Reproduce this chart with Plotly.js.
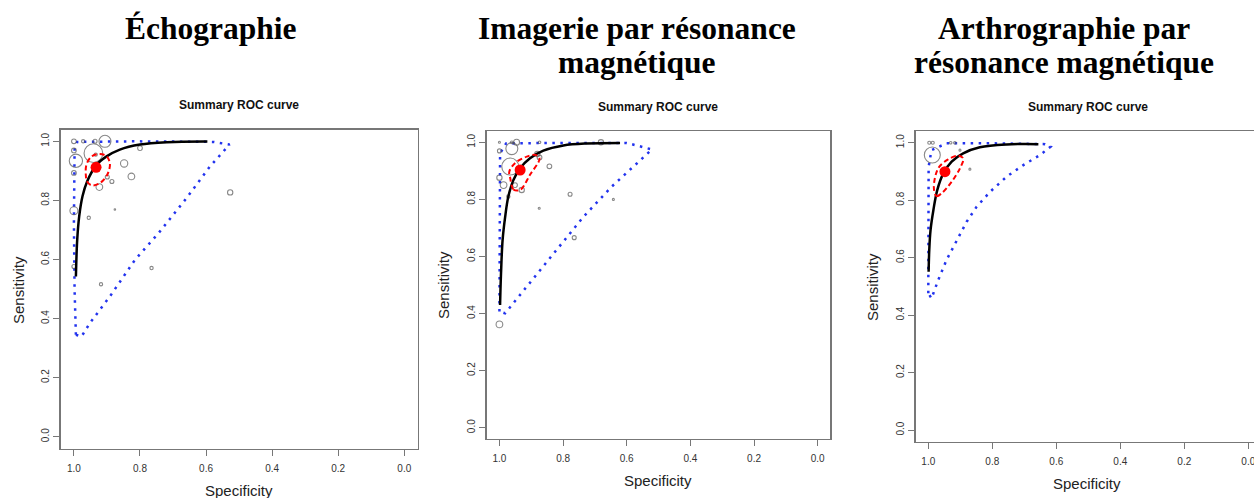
<!DOCTYPE html>
<html>
<head>
<meta charset="utf-8">
<script src="https://cdn.plot.ly/plotly-3.0.1.min.js"></script>
<style>
html,body{margin:0;padding:0;overflow:hidden;background:#fff;width:1254px;height:498px;}
#chart{width:1270px;height:498px;}
</style>
</head>
<body>
<div id="chart"></div>
<script>
// ---------- Panel titles ----------
const panelTitles = [["Échographie"], ["Imagerie par résonance", "magnétique"], ["Arthrographie par", "résonance magnétique"]];
const subTitle = "Summary ROC curve";
const xTitle = "Specificity";
const yTitle = "Sensitivity";
const tickVals = [0, 0.2, 0.4, 0.6, 0.8, 1.0];
const tickText = ["0.0", "0.2", "0.4", "0.6", "0.8", "1.0"];

// ---------- Panel 1 : Échographie ----------
const ech_spec = [1.0, 0.972, 0.936, 0.906, 0.80, 1.0, 0.941, 0.994, 0.934, 0.848, 1.0, 0.899, 0.885, 0.826, 0.923, 1.0, 0.955, 0.876, 0.527, 1.0, 0.765, 0.918];
const ech_sens = [1.0, 1.0, 1.0, 1.0, 0.977, 0.969, 0.960, 0.934, 0.955, 0.925, 0.893, 0.879, 0.864, 0.881, 0.845, 0.765, 0.741, 0.769, 0.827, 0.576, 0.571, 0.516];
const ech_size = [4.7, 3.3, 4, 12, 4.7, 4.7, 18.7, 13.3, 3.3, 7.3, 4.7, 4, 4, 6.7, 6.7, 8, 3.3, 1.5, 5.3, 4, 3.3, 3.3];
const ech_sum_spec = [0.933];
const ech_sum_sens = [0.912];
const ech_sroc_spec = [0.994, 0.990, 0.984, 0.974, 0.960, 0.931, 0.901, 0.861, 0.800, 0.719, 0.596];
const ech_sroc_sens = [0.542, 0.667, 0.746, 0.814, 0.864, 0.921, 0.949, 0.972, 0.989, 0.997, 0.999];
const ech_conf_spec = [0.964, 0.960, 0.946, 0.921, 0.899, 0.891, 0.901, 0.921, 0.946, 0.962, 0.964];
const ech_conf_sens = [0.887, 0.864, 0.851, 0.859, 0.887, 0.924, 0.949, 0.957, 0.949, 0.921, 0.887];
const ech_pred_spec = [0.994, 0.998, 1.0, 1.0, 0.998, 0.990, 0.820, 0.578, 0.529, 0.588, 0.659, 0.744, 0.815, 0.891, 0.952, 0.977, 0.994];
const ech_pred_sens = [0.345, 0.497, 0.723, 0.893, 0.972, 0.998, 1.0, 0.998, 0.989, 0.915, 0.808, 0.689, 0.599, 0.475, 0.384, 0.339, 0.345];

// ---------- Panel 2 : IRM ----------
const irm_spec = [1.0, 0.946, 0.961, 0.874, 0.681, 1.0, 0.966, 1.0, 0.987, 0.951, 0.930, 0.881, 0.874, 0.843, 0.972, 0.778, 0.875, 0.642, 0.765, 1.0, 0.961];
const irm_sens = [1.0, 1.0, 0.978, 1.0, 1.0, 0.970, 0.915, 0.876, 0.850, 0.850, 0.833, 0.959, 0.947, 0.916, 0.810, 0.818, 0.769, 0.800, 0.666, 0.362, 1.0];
const irm_size = [2, 6, 12, 2.5, 5.3, 4, 17, 5.3, 6.7, 4.7, 5.3, 5.3, 4.7, 4.7, 3.3, 4, 2, 2, 4, 6.7, 2.7];
const irm_sum_spec = [0.935];
const irm_sum_sens = [0.903];
const irm_sroc_spec = [0.998, 0.995, 0.990, 0.982, 0.972, 0.956, 0.935, 0.904, 0.862, 0.799, 0.726, 0.621];
const irm_sroc_sens = [0.430, 0.541, 0.658, 0.739, 0.810, 0.868, 0.909, 0.944, 0.971, 0.989, 0.996, 0.998];
const irm_conf_spec = [0.966, 0.956, 0.935, 0.904, 0.874, 0.888, 0.914, 0.951, 0.969, 0.966];
const irm_conf_sens = [0.874, 0.835, 0.833, 0.886, 0.944, 0.956, 0.950, 0.927, 0.897, 0.874];
const irm_pred_spec = [1.0, 1.0, 0.998, 0.979, 0.830, 0.600, 0.521, 0.579, 0.647, 0.736, 0.830, 0.925, 0.982, 1.0];
const irm_pred_sens = [0.407, 0.716, 0.961, 0.996, 0.998, 0.998, 0.975, 0.915, 0.845, 0.739, 0.611, 0.482, 0.401, 0.407];

// ---------- Panel 3 : Arthro-IRM ----------
const arthro_spec = [0.9875, 0.997, 0.986, 0.930, 0.917, 0.901, 0.870];
const arthro_sens = [0.957, 1.0, 1.0, 1.0, 1.0, 0.974, 0.908];
const arthro_size = [16, 3, 3, 2.5, 2.5, 2, 2];
const arthro_sum_spec = [0.948];
const arthro_sum_sens = [0.899];
const arthro_sroc_spec = [0.999, 0.997, 0.993, 0.984, 0.972, 0.953, 0.927, 0.891, 0.839, 0.755, 0.656];
const arthro_sroc_sens = [0.551, 0.626, 0.696, 0.766, 0.835, 0.893, 0.934, 0.963, 0.984, 0.994, 0.995];
const arthro_conf_spec = [0.982, 0.974, 0.958, 0.927, 0.901, 0.891, 0.906, 0.938, 0.966, 0.979, 0.982];
const arthro_conf_sens = [0.835, 0.814, 0.824, 0.864, 0.911, 0.945, 0.955, 0.942, 0.916, 0.879, 0.835];
const arthro_pred_spec = [1.0, 1.0, 0.999, 0.990, 0.943, 0.807, 0.635, 0.618, 0.651, 0.703, 0.755, 0.807, 0.849, 0.880, 0.911, 0.943, 0.969, 0.990, 1.0];
const arthro_pred_sens = [0.476, 0.719, 0.916, 0.974, 0.998, 0.998, 0.995, 0.986, 0.957, 0.922, 0.882, 0.829, 0.777, 0.725, 0.661, 0.592, 0.522, 0.458, 0.476];

// ---------- Layout geometry (pixels) ----------
const W = 1270, H = 498;
const boxes = [
  {l: 60.7, r: 417.5, t: 129.5, b: 448.5},
  {l: 486.7, r: 830.4, t: 130.9, b: 439.1},
  {l: 915.5, r: 1261.1, t: 131.2, b: 441.5}
];
const panels = [
  {spec: ech_spec, sens: ech_sens, size: ech_size, sx: ech_sum_spec, sy: ech_sum_sens, rx: ech_sroc_spec, ry: ech_sroc_sens, cx: ech_conf_spec, cy: ech_conf_sens, px: ech_pred_spec, py: ech_pred_sens},
  {spec: irm_spec, sens: irm_sens, size: irm_size, sx: irm_sum_spec, sy: irm_sum_sens, rx: irm_sroc_spec, ry: irm_sroc_sens, cx: irm_conf_spec, cy: irm_conf_sens, px: irm_pred_spec, py: irm_pred_sens},
  {spec: arthro_spec, sens: arthro_sens, size: arthro_size, sx: arthro_sum_spec, sy: arthro_sum_sens, rx: arthro_sroc_spec, ry: arthro_sroc_sens, cx: arthro_conf_spec, cy: arthro_conf_sens, px: arthro_pred_spec, py: arthro_pred_sens}
];
const titleCenters = [211, 637, 1064];
const subCenters = [[239, 105], [658, 107], [1088, 107]];
const yTitlePos = [[18, 290], [443, 285], [872, 287]];
const xTitlePos = [[239, 490], [658, 480], [1087, 483]];

const traces = [];
const layout = {
  width: W, height: H,
  margin: {l: 0, r: 0, t: 0, b: 0},
  paper_bgcolor: '#fff', plot_bgcolor: '#fff',
  showlegend: false,
  font: {family: 'Liberation Sans, Arial, sans-serif', color: '#222'},
  annotations: []
};

panels.forEach((p, i) => {
  const sfx = i === 0 ? '' : String(i + 1);
  const xa = 'x' + sfx, ya = 'y' + sfx;
  const bx = boxes[i];
  const axCommon = {
    showgrid: false, zeroline: false,
    showline: true, mirror: true, linecolor: '#777', linewidth: 1.3,
    ticks: 'outside', ticklen: 6, tickwidth: 1, tickcolor: '#777',
    tickvals: tickVals, ticktext: tickText,
    tickfont: {family: 'Liberation Sans, Arial, sans-serif', size: 10, color: '#333'}
  };
  layout['xaxis' + sfx] = Object.assign({}, axCommon, {
    domain: [bx.l / W, bx.r / W], range: [1.04, -0.04], anchor: ya, fixedrange: true, ticklabelstandoff: 4
  });
  layout['yaxis' + sfx] = Object.assign({}, axCommon, {
    domain: [(H - bx.b) / H, (H - bx.t) / H], range: [-0.04, 1.04], anchor: xa, tickangle: -90, fixedrange: true
  });

  // prediction region (blue dotted)
  traces.push({x: p.px, y: p.py, xaxis: xa, yaxis: ya, mode: 'lines', type: 'scatter',
    line: {color: '#2233ee', width: 2.5, dash: '2.5px,5.5px'}, hoverinfo: 'skip'});
  // studies
  traces.push({x: p.spec, y: p.sens, xaxis: xa, yaxis: ya, mode: 'markers', type: 'scatter',
    marker: {symbol: 'circle-open', size: p.size, color: '#555', line: {width: 1.1, color: '#555'}}});
  // SROC curve
  traces.push({x: p.rx, y: p.ry, xaxis: xa, yaxis: ya, mode: 'lines', type: 'scatter',
    line: {color: '#000', width: 2.5, shape: 'spline', smoothing: 1}});
  // confidence region (red dashed)
  traces.push({x: p.cx, y: p.cy, xaxis: xa, yaxis: ya, mode: 'lines', type: 'scatter',
    line: {color: '#ff0000', width: 2, dash: '5px,3px', shape: 'spline', smoothing: 1}, hoverinfo: 'skip'});
  // summary point
  traces.push({x: p.sx, y: p.sy, xaxis: xa, yaxis: ya, mode: 'markers', type: 'scatter',
    marker: {symbol: 'circle', size: 11, color: '#ff0000'}});

  // big titles
  panelTitles[i].forEach((line, k) => {
    layout.annotations.push({
      text: '<b>' + line + '</b>', xref: 'paper', yref: 'paper', showarrow: false,
      x: titleCenters[i] / W, y: 1 - (28 + 34 * k) / H, xanchor: 'center', yanchor: 'middle',
      font: {family: 'Liberation Serif, Times New Roman, serif', size: 31.5, color: '#000'}
    });
  });
  // sub title
  layout.annotations.push({
    text: '<b>' + subTitle + '</b>', xref: 'paper', yref: 'paper', showarrow: false,
    x: subCenters[i][0] / W, y: 1 - subCenters[i][1] / H, xanchor: 'center', yanchor: 'middle',
    font: {size: 12, color: '#111'}
  });
  // axis titles
  layout.annotations.push({
    text: yTitle, xref: 'paper', yref: 'paper', showarrow: false, textangle: -90,
    x: yTitlePos[i][0] / W, y: 1 - yTitlePos[i][1] / H, xanchor: 'center', yanchor: 'middle',
    font: {size: 15, color: '#222'}
  });
  layout.annotations.push({
    text: xTitle, xref: 'paper', yref: 'paper', showarrow: false,
    x: xTitlePos[i][0] / W, y: 1 - xTitlePos[i][1] / H, xanchor: 'center', yanchor: 'middle',
    font: {size: 15, color: '#222'}
  });
});

Plotly.newPlot('chart', traces, layout, {staticPlot: true, displayModeBar: false});
</script>
</body>
</html>
